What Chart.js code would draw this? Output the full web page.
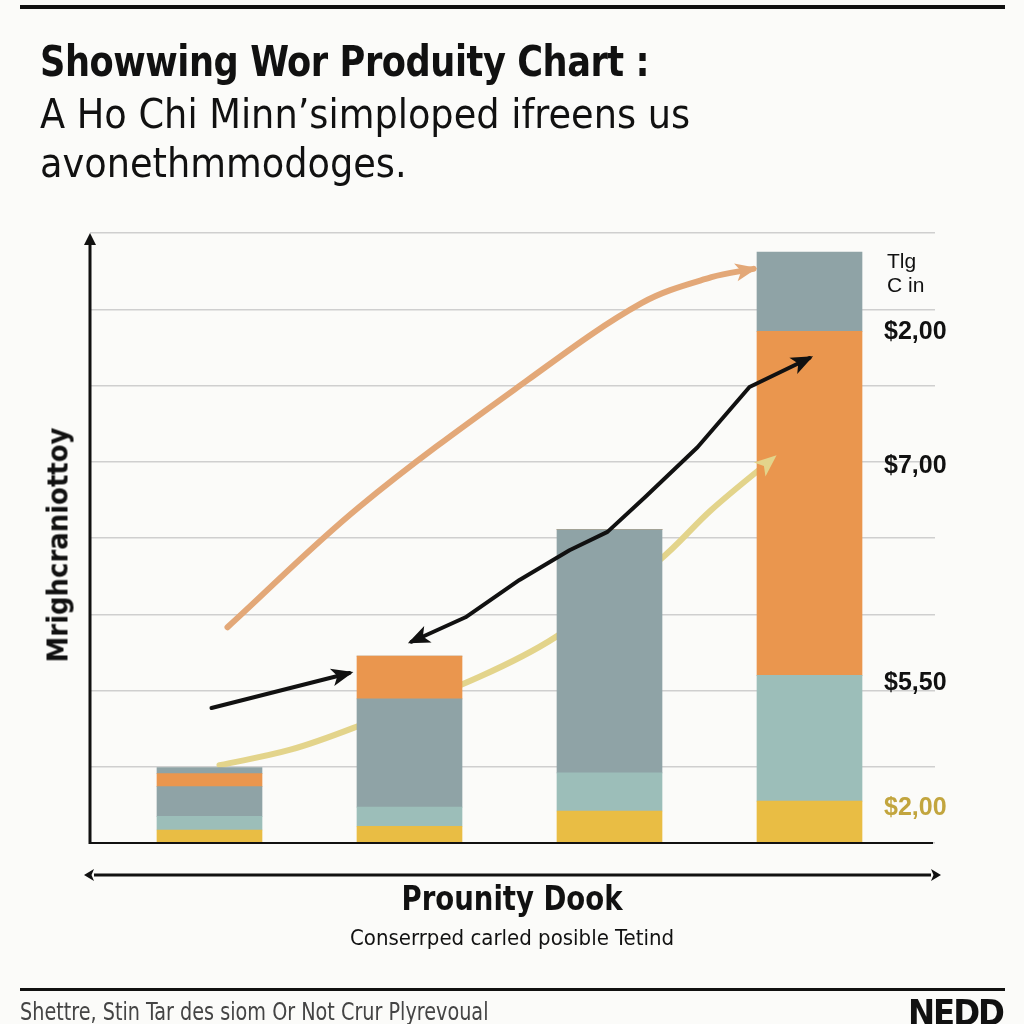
<!DOCTYPE html>
<html>
<head>
<meta charset="utf-8">
<script src="https://cdn.jsdelivr.net/npm/chart.js@4.4.1/dist/chart.umd.min.js"></script>
<style>
  html, body { margin: 0; padding: 0; background: #fbfbf9; }
  #wrap { position: relative; width: 1024px; height: 1024px; overflow: hidden; }
  #chart { position: absolute; left: 0; top: 0; }
  .t { position: absolute; white-space: nowrap; color: #111; font-family: "Liberation Sans Narrow", "DejaVu Sans Condensed", "Roboto", sans-serif; }
  .rule { position: absolute; left: 20px; width: 985px; background: #111; }
</style>
</head>
<body>
<div id="wrap">
  <canvas id="chart" width="1024" height="1024"></canvas>
  <div class="rule" style="top:5px;height:4px"></div>
  <div class="t" style="left:40px;top:36px;font-size:43px;font-weight:bold;letter-spacing:-0.5px;transform:scaleX(0.91);transform-origin:left center">Showwing Wor Produity Chart :</div>
  <div class="t" style="left:40px;top:90px;font-size:40px;line-height:49px;transform:scaleX(1.02);transform-origin:left center">A Ho Chi Minn’simploped ifreens us<br>avonethmmodoges.</div>
  <div class="t" style="left:58px;top:545px;font-size:28px;font-weight:bold;transform:translate(-50%,-50%) rotate(-90deg) scaleX(1.03)">Mrighcraniottoy</div>
  <div class="t" style="left:512px;top:898px;font-size:34px;font-weight:bold;transform:translate(-50%,-50%) scaleX(0.9)">Prounity Dook</div>
  <div class="t" style="left:512px;top:937px;font-size:22px;transform:translate(-50%,-50%)">Conserrped carled posible Tetind</div>
  <div class="rule" style="top:988px;height:3px"></div>
  <div class="t" style="left:20px;top:1012px;font-size:24px;color:#444;transform:translateY(-50%) scaleX(0.89);transform-origin:left center">Shettre, Stin Tar des siom Or Not Crur Plyrevoual</div>
  <div class="t" style="right:21px;top:1012px;font-size:36px;font-weight:bold;letter-spacing:-2px;transform:translateY(-50%)">NEDD</div>
</div>
<script>
// Categorías (posición de cada barra en el eje x)
const categories = [1, 2, 3, 4];

// Segmentos apilados de cada barra (de abajo hacia arriba)
const yellowSeg = [0.17, 0.22, 0.42, 0.55];
const tealSeg   = [0.18, 0.25, 0.50, 1.65];
const slateSeg  = [0.39, 1.42, 3.19, 0];
const orangeSeg = [0.17, 0.56, 0, 4.51];
const topSeg    = [0.08, 0, 0, 1.04];

// Curvas de tendencia
const upperX = [1.09, 1.75, 2.59, 3.16, 3.51, 3.72];
const upperY = [2.83, 4.41, 6.07, 7.08, 7.42, 7.53];
const blackX = [2.01, 2.28, 2.55, 2.80, 2.99, 3.18, 3.44, 3.70, 4.00];
const blackY = [2.64, 2.96, 3.45, 3.84, 4.08, 4.54, 5.19, 5.98, 6.36];
const shortX = [1.01, 1.70];
const shortY = [1.77, 2.23];
const lowerX = [1.05, 1.40, 1.72, 2.35, 2.73, 3.25, 3.51, 3.82];
const lowerY = [1.02, 1.22, 1.51, 2.18, 2.70, 3.71, 4.37, 5.05];

// Etiquetas de la derecha
const sideValues = [6.70, 4.94, 2.10, 0.46];
const sideLabels = ['$2,00', '$7,00', '$5,50', '$2,00'];
const headValues = [7.62, 7.30];
const headLabels = ['Tlg', 'C in'];

const pts = (xs, ys) => xs.map((x, i) => ({ x: x, y: ys[i] }));
const barData = seg => categories.map((x, i) => ({ x: x, y: seg[i] }));

function bar(label, seg, color) {
    return { type: 'bar', label: label, data: barData(seg), backgroundColor: color,
             borderWidth: 0, barThickness: 105, stack: 'bars', order: 5 };
}
function line(label, data, color, width, tension, order, stack, arrows) {
    return { type: 'line', label: label, data: data, borderColor: color, borderWidth: width,
             tension: tension, pointRadius: 0, fill: false, order: order, stack: stack,
             arrowStart: arrows.start, arrowEnd: arrows.end, arrowSize: arrows.size,
             borderCapStyle: 'round', borderJoinStyle: 'round' };
}

function arrowHead(ctx, tx, ty, fx, fy, len, wid, color) {
    const a = Math.atan2(ty - fy, tx - fx);
    ctx.save();
    ctx.translate(tx, ty);
    ctx.rotate(a);
    ctx.fillStyle = color;
    ctx.beginPath();
    ctx.moveTo(4, 0);
    ctx.lineTo(4 - len, -wid / 2);
    ctx.lineTo(4 - len * 0.75, 0);
    ctx.lineTo(4 - len, wid / 2);
    ctx.closePath();
    ctx.fill();
    ctx.restore();
}

const decor = {
    id: 'decor',
    beforeDraw(chart) {
        const ctx = chart.ctx;
        ctx.save();
        ctx.fillStyle = '#fbfbf9';
        ctx.fillRect(0, 0, chart.width, chart.height);
        ctx.restore();
    },
    afterDatasetsDraw(chart) {
        const { ctx, chartArea: a, scales: { y } } = chart;
        // puntas de flecha
        chart.data.datasets.forEach((ds, i) => {
            if (!ds.arrowEnd && !ds.arrowStart) return;
            const p = chart.getDatasetMeta(i).data;
            const n = p.length;
            if (ds.arrowEnd) {
                const last = p[n - 1], prev = p[n - 2];
                const fx = ds.tension ? last.cp1x : prev.x, fy = ds.tension ? last.cp1y : prev.y;
                arrowHead(ctx, last.x, last.y, fx, fy, ds.arrowSize[0], ds.arrowSize[1], ds.borderColor);
            }
            if (ds.arrowStart) {
                const first = p[0], next = p[1];
                arrowHead(ctx, first.x, first.y, next.x, next.y, ds.arrowSize[0], ds.arrowSize[1], ds.borderColor);
            }
        });
        ctx.save();
        // eje y con flecha
        ctx.strokeStyle = '#111';
        ctx.lineWidth = 3;
        ctx.beginPath();
        ctx.moveTo(a.left, a.bottom + 1);
        ctx.lineTo(a.left, a.top + 6);
        ctx.stroke();
        ctx.fillStyle = '#111';
        ctx.beginPath();
        ctx.moveTo(a.left, a.top);
        ctx.lineTo(a.left - 6, a.top + 12);
        ctx.lineTo(a.left + 6, a.top + 12);
        ctx.closePath();
        ctx.fill();
        // línea base
        ctx.lineWidth = 2;
        ctx.beginPath();
        ctx.moveTo(a.left, a.bottom);
        ctx.lineTo(a.right - 2, a.bottom);
        ctx.stroke();
        // flecha doble bajo el eje
        const yy = a.bottom + 32;
        ctx.lineWidth = 3;
        ctx.beginPath();
        ctx.moveTo(a.left + 4, yy);
        ctx.lineTo(a.right - 4, yy);
        ctx.stroke();
        arrowHead(ctx, a.left - 2, yy, a.left + 20, yy, 10, 12, '#111');
        arrowHead(ctx, a.right + 2, yy, a.right - 20, yy, 10, 12, '#111');
        // etiquetas laterales
        ctx.textBaseline = 'middle';
        ctx.textAlign = 'left';
        ctx.font = '21px Arimo, "Liberation Sans", Roboto, sans-serif';
        ctx.fillStyle = '#111';
        headLabels.forEach((t, i) => ctx.fillText(t, 887, y.getPixelForValue(headValues[i])));
        ctx.font = 'bold 25px Arimo, "Liberation Sans", Roboto, sans-serif';
        sideLabels.forEach((t, i) => {
            ctx.fillStyle = i === sideLabels.length - 1 ? '#c2a53e' : '#111';
            ctx.fillText(t, 884, y.getPixelForValue(sideValues[i]));
        });
        ctx.restore();
    }
};

const ctx = document.getElementById('chart').getContext('2d');
new Chart(ctx, {
    type: 'bar',
    data: {
        datasets: [
            line('Curva superior', pts(upperX, upperY), '#e3a878', 6, 0.35, 0, 'l1', { end: true, size: [22, 18] }),
            line('Tendencia', pts(blackX, blackY), '#111111', 4, 0, 1, 'l2', { start: true, end: true, size: [22, 18] }),
            line('Flecha corta', pts(shortX, shortY), '#111111', 4, 0, 1, 'l3', { end: true, size: [22, 18] }),
            bar('Amarillo', yellowSeg, '#e9bd44'),
            bar('Verde azulado', tealSeg, '#9cbeb9'),
            bar('Pizarra', slateSeg, '#8fa3a6'),
            bar('Naranja', orangeSeg, '#ea964e'),
            bar('Superior', topSeg, '#8fa3a6'),
            line('Curva inferior', pts(lowerX, lowerY), '#e3d48b', 6, 0.35, 10, 'l4', { end: true, size: [22, 18] })
        ]
    },
    options: {
        responsive: false,
        animation: false,
        layout: { padding: { left: 90, right: 89, top: 233, bottom: 181 } },
        plugins: { legend: { display: false }, tooltip: { enabled: false } },
        scales: {
            x: { type: 'linear', min: 0.4025, max: 4.6275, offset: false, display: false },
            y: {
                stacked: true, min: 0, max: 8,
                ticks: { display: false, stepSize: 1 },
                grid: { color: '#cfcfcf', lineWidth: 1.5, drawTicks: false },
                border: { display: false }
            }
        }
    },
    plugins: [decor]
});
</script>
</body>
</html>
